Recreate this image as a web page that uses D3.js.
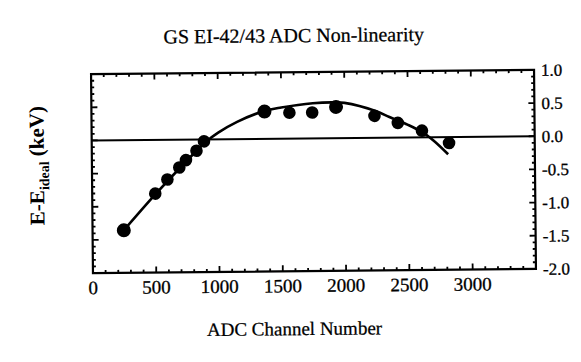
<!DOCTYPE html>
<html>
<head>
<meta charset="utf-8">
<script src="https://cdn.jsdelivr.net/npm/d3@7"></script>
<style>
  body { margin: 0; background: #fff; }
  text { font-family: "Liberation Serif", "DejaVu Serif", serif; fill: #000; }
</style>
</head>
<body>
<div id="viz"></div>
<script>
// measured points (ADC channel, E - E_ideal in keV)
var pointX = [247, 498, 595, 690, 743, 827, 887, 1367, 1564, 1744, 1933, 2236, 2420, 2610, 2823];
var pointY = [-1.36, -0.81, -0.60, -0.42, -0.31, -0.17, -0.03, 0.41, 0.39, 0.39, 0.47, 0.33, 0.22, 0.10, -0.09];

// fitted curve
var curveX = [247, 500, 750, 900, 1000, 1150, 1367, 1500, 1750, 1900, 2000, 2250, 2354, 2500, 2610, 2700, 2815];
var curveY = [-1.36, -0.82, -0.32, -0.04, 0.10, 0.26, 0.42, 0.47, 0.53, 0.54, 0.53, 0.40, 0.31, 0.19, 0.08, -0.05, -0.26];

// tick labels
var xTicks = [0, 500, 1000, 1500, 2000, 2500, 3000];
var yTicks = [1.0, 0.5, 0.0, -0.5, -1.0, -1.5, -2.0];

var plotLeft = 92, plotRight = 535, plotTop = 72, plotBottom = 271;

var svg = d3.select('#viz').append('svg')
	.attr('width', 581)
	.attr('height', 362);

// the scan is slightly tilted
var g = svg.append('g').attr('transform', 'rotate(-0.55, 313, 171)');

var x = d3.scaleLinear().domain([0, 3500]).range([plotLeft, plotRight]);
var y = d3.scaleLinear().domain([-2, 1]).range([plotBottom, plotTop]);

var minorX = d3.range(100, 3500, 100);
var minorY = d3.range(-19, 10).map(function(d) { return d / 10; });

// tick marks pointing into the plot
function isMajorX(v) { return v % 500 === 0; }
function isMajorY(v) { return Math.abs(v * 2 - Math.round(v * 2)) < 1e-6; }

g.selectAll('.tb').data(minorX).enter().append('line')
	.attr('x1', function(d) { return x(d); }).attr('x2', function(d) { return x(d); })
	.attr('y1', plotBottom).attr('y2', function(d) { return plotBottom - (isMajorX(d) ? 6 : 3); })
	.attr('stroke', '#000').attr('stroke-width', 1.8);
g.selectAll('.tt').data(minorX).enter().append('line')
	.attr('x1', function(d) { return x(d); }).attr('x2', function(d) { return x(d); })
	.attr('y1', plotTop).attr('y2', function(d) { return plotTop + (isMajorX(d) ? 6 : 3); })
	.attr('stroke', '#000').attr('stroke-width', 1.8);
g.selectAll('.tl').data(minorY).enter().append('line')
	.attr('y1', function(d) { return y(d); }).attr('y2', function(d) { return y(d); })
	.attr('x1', plotLeft).attr('x2', function(d) { return plotLeft + (isMajorY(d) ? 6 : 3); })
	.attr('stroke', '#000').attr('stroke-width', 1.8);
g.selectAll('.tr').data(minorY).enter().append('line')
	.attr('y1', function(d) { return y(d); }).attr('y2', function(d) { return y(d); })
	.attr('x1', plotRight).attr('x2', function(d) { return plotRight - (isMajorY(d) ? 6 : 3); })
	.attr('stroke', '#000').attr('stroke-width', 1.8);

// frame
g.append('rect')
	.attr('x', plotLeft).attr('y', plotTop)
	.attr('width', plotRight - plotLeft).attr('height', plotBottom - plotTop)
	.attr('fill', 'none').attr('stroke', '#000').attr('stroke-width', 2.2);

// x tick labels
g.selectAll('.xl').data(xTicks).enter().append('text')
	.attr('x', function(d) { return x(d); })
	.attr('y', plotBottom + 21)
	.attr('text-anchor', 'middle')
	.style('font-size', '19px')
	.style('stroke', '#000').style('stroke-width', 0.3)
	.text(function(d) { return d; });

// y tick labels on the right
g.selectAll('.yl').data(yTicks).enter().append('text')
	.attr('x', plotRight + 7)
	.attr('y', function(d) { return y(d) + 6; })
	.style('font-size', '17px')
	.style('stroke', '#000').style('stroke-width', 0.3)
	.text(function(d) { return d3.format('.1f')(d).replace('−', '-'); });

// zero line
g.append('line')
	.attr('x1', plotLeft).attr('x2', plotRight)
	.attr('y1', y(0)).attr('y2', y(0))
	.attr('stroke', '#000').attr('stroke-width', 2);

// fitted curve
var line = d3.line()
	.x(function(d, i) { return x(curveX[i]); })
	.y(function(d, i) { return y(curveY[i]); })
	.curve(d3.curveCatmullRom);

g.append('path')
	.datum(curveX)
	.attr('d', line)
	.attr('fill', 'none')
	.attr('stroke', '#000')
	.attr('stroke-width', 2.6);

// points
g.selectAll('.point').data(pointX).enter().append('circle')
	.attr('class', 'point')
	.attr('cx', function(d) { return x(d); })
	.attr('cy', function(d, i) { return y(pointY[i]); })
	.attr('r', function(d, i) { return (i === 0 || i === 7 || i === 10) ? 7 : 6.3; })
	.attr('fill', '#000');

// titles
g.append('text')
	.attr('x', 295).attr('y', 42)
	.attr('text-anchor', 'middle')
	.style('font-size', '20px')
	.style('stroke', '#000').style('stroke-width', 0.25)
	.text('GS EI-42/43 ADC Non-linearity');

g.append('text')
	.attr('x', 293).attr('y', 335)
	.attr('text-anchor', 'middle')
	.style('font-size', '19px')
	.style('stroke', '#000').style('stroke-width', 0.25)
	.text('ADC Channel Number');

var yl = g.append('text')
	.attr('transform', 'translate(44,163) rotate(-90)')
	.attr('text-anchor', 'middle')
	.style('font-size', '21px')
	.style('font-weight', 'bold');
yl.append('tspan').text('E-E');
yl.append('tspan').attr('dy', 5).style('font-size', '14px').text('ideal');
yl.append('tspan').attr('dy', -5).text(' (keV)');
</script>
</body>
</html>
